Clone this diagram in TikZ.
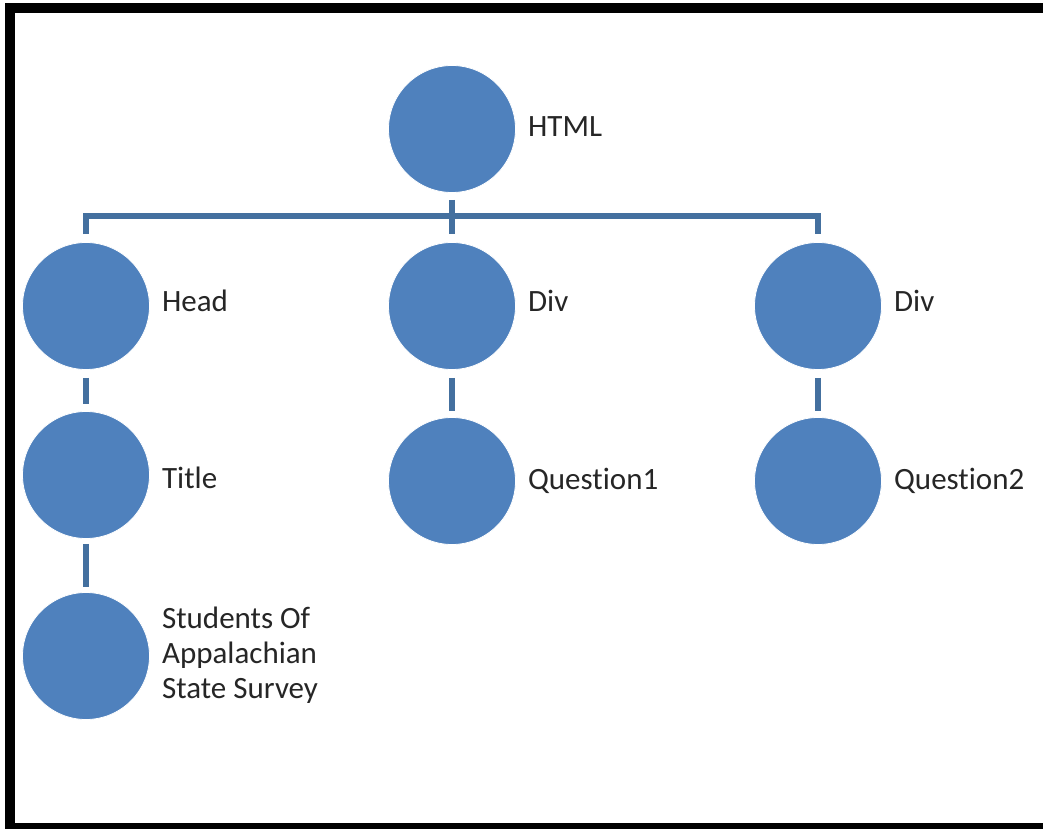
\documentclass[tikz,border=0pt]{standalone}
\usepackage{fontspec}
\setmainfont{Carlito}[Ligatures=NoCommon]
\begin{document}
\begin{tikzpicture}[x=1pt,y=1pt,
  bubble/.style={circle, fill=bubbleblue, draw=white, line width=0.8pt, minimum size=127pt, inner sep=0pt},
  conn/.style={draw=linkblue, line width=6pt, line join=miter},
  lbl/.style={text=black!85, inner sep=0pt, anchor=base west, font=\fontsize{31}{35}\selectfont, align=left}]
\definecolor{bubbleblue}{HTML}{4F81BD}
\definecolor{linkblue}{HTML}{44709F}
% canvas and frame
\fill[white] (0,0) rectangle (1043,828);
\useasboundingbox (0,0) rectangle (1043,828);
\begin{scope}
  \clip (0,0) rectangle (1043,828);
  \draw[black, line width=10pt, line join=miter] (1060,820) -- (9.5,820) -- (9.5,0) -- (1060,0);
\end{scope}
% tree nodes
\node[bubble] (html)  at (452,699) {};
\node[bubble] (head)  at (86,522) {};
\node[bubble] (title) at (86,353) {};
\node[bubble] (sas)   at (86,172) {};
\node[bubble] (diva)  at (452,522) {};
\node[bubble] (qa)    at (452,347) {};
\node[bubble] (divb)  at (818,522) {};
\node[bubble] (qb)    at (818,347) {};
% connectors
\draw[conn] ([yshift=-7]html.south) -- ([yshift=8]diva.north);
\draw[conn] ([yshift=8]head.north) -- ++(0,18) -| ([yshift=8]divb.north);
\draw[conn, shorten <=8pt, shorten >=7pt] (head) -- (title);
\draw[conn, shorten <=5pt, shorten >=5pt] (title) -- (sas);
\draw[conn, shorten <=8pt, shorten >=6pt] (diva) -- (qa);
\draw[conn, shorten <=8pt, shorten >=6pt] (divb) -- (qb);
% labels
\node[lbl] (lhtml)  at ([xshift=12,yshift=-8]html.east) {HTML};
\node[lbl] (lhead)  at ([xshift=12,yshift=-6]head.east) {Head};
\node[lbl] (ltitle) at ([xshift=12,yshift=-13]title.east) {Title};
\node[lbl] (ldiva)  at ([xshift=12,yshift=-6]diva.east) {Div};
\node[lbl] (lqa)    at ([xshift=12,yshift=-8]qa.east) {Question1};
\node[lbl] (ldivb)  at ([xshift=12,yshift=-6]divb.east) {Div};
\node[lbl] (lqb)    at ([xshift=12,yshift=-8]qb.east) {Question2};
\node[lbl] (lsas)   at ([xshift=12,yshift=-42]sas.east) {Students Of\\Appalachian\\State Survey};
\end{tikzpicture}
\end{document}
